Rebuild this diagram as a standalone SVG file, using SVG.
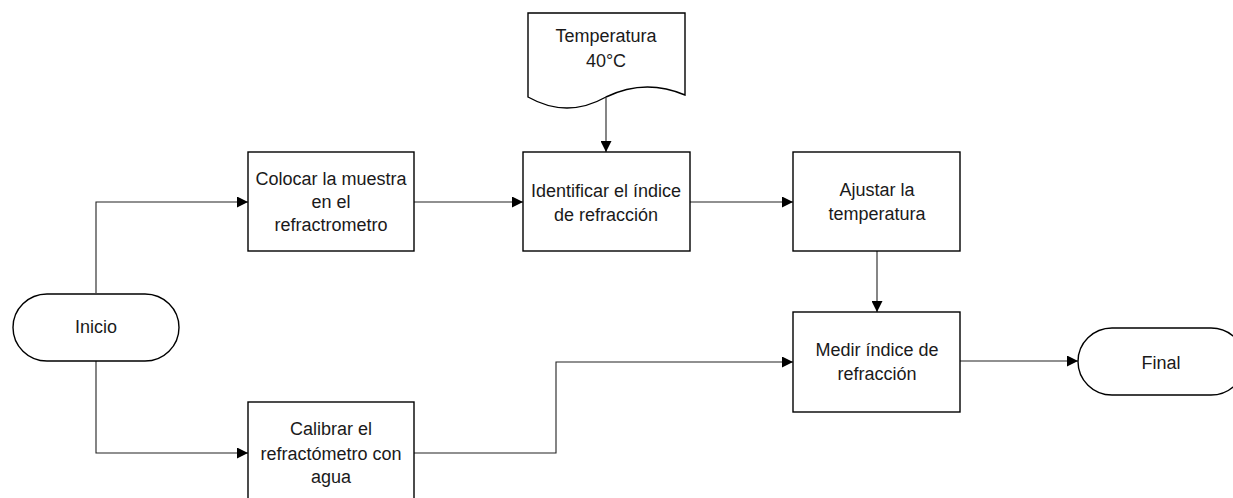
<svg xmlns="http://www.w3.org/2000/svg" width="1233" height="498" viewBox="0 0 1233 498">
<defs>
<style>
.shape{fill:#fff;stroke:#000;stroke-width:1.4}
.conn{fill:none;stroke:#222;stroke-width:1.1}
.t{font-family:"Liberation Sans",Arial,sans-serif;font-size:18px;fill:#1a1a1a;text-anchor:middle}
</style>
<marker id="arr" viewBox="0 0 10 10" refX="10" refY="5" markerWidth="11" markerHeight="11" markerUnits="userSpaceOnUse" orient="auto">
<path d="M0,0 L10,5 L0,10 Z" fill="#000"/>
</marker>
</defs>
<rect width="1233" height="498" fill="#fff"/>
<g id="connectors">
<path class="conn" d="M96,293 V202 H248" marker-end="url(#arr)"/>
<path class="conn" d="M414,202 H523" marker-end="url(#arr)"/>
<path class="conn" d="M606,98 V152" marker-end="url(#arr)"/>
<path class="conn" d="M690,202 H793" marker-end="url(#arr)"/>
<path class="conn" d="M877,251 V312" marker-end="url(#arr)"/>
<path class="conn" d="M96,361 V453 H248" marker-end="url(#arr)"/>
<path class="conn" d="M414,453 H556 V362 H793" marker-end="url(#arr)"/>
<path class="conn" d="M960,361 H1078" marker-end="url(#arr)"/>
</g>
<g id="inicio">
<rect class="shape" x="13" y="294" width="166" height="67" rx="34" ry="33.5"/>
<text class="t" x="96" y="333">Inicio</text>
</g>
<g id="colocar">
<rect class="shape" x="248" y="152" width="166" height="99"/>
<text class="t" x="331" y="185">Colocar la muestra</text>
<text class="t" x="331" y="208">en el</text>
<text class="t" x="331" y="231">refractrometro</text>
</g>
<g id="temperatura">
<path class="shape" d="M528,13 H685 V95 Q645,78 606,97 Q567,119 528,97 Z"/>
<text class="t" x="606" y="42">Temperatura</text>
<text class="t" x="606" y="67">40°C</text>
</g>
<g id="identificar">
<rect class="shape" x="523" y="152" width="167" height="99"/>
<text class="t" x="606" y="197">Identificar el índice</text>
<text class="t" x="606" y="221">de refracción</text>
</g>
<g id="ajustar">
<rect class="shape" x="793" y="152" width="167" height="99"/>
<text class="t" x="877" y="196">Ajustar la</text>
<text class="t" x="877" y="220">temperatura</text>
</g>
<g id="medir">
<rect class="shape" x="793" y="312" width="167" height="100"/>
<text class="t" x="877" y="356">Medir índice de</text>
<text class="t" x="877" y="380">refracción</text>
</g>
<g id="final">
<rect class="shape" x="1078" y="328" width="167" height="67" rx="34" ry="33.5"/>
<text class="t" x="1161" y="369">Final</text>
</g>
<g id="calibrar">
<rect class="shape" x="248" y="402" width="166" height="100"/>
<text class="t" x="331" y="435">Calibrar el</text>
<text class="t" x="331" y="460">refractómetro con</text>
<text class="t" x="331" y="483">agua</text>
</g>
</svg>
